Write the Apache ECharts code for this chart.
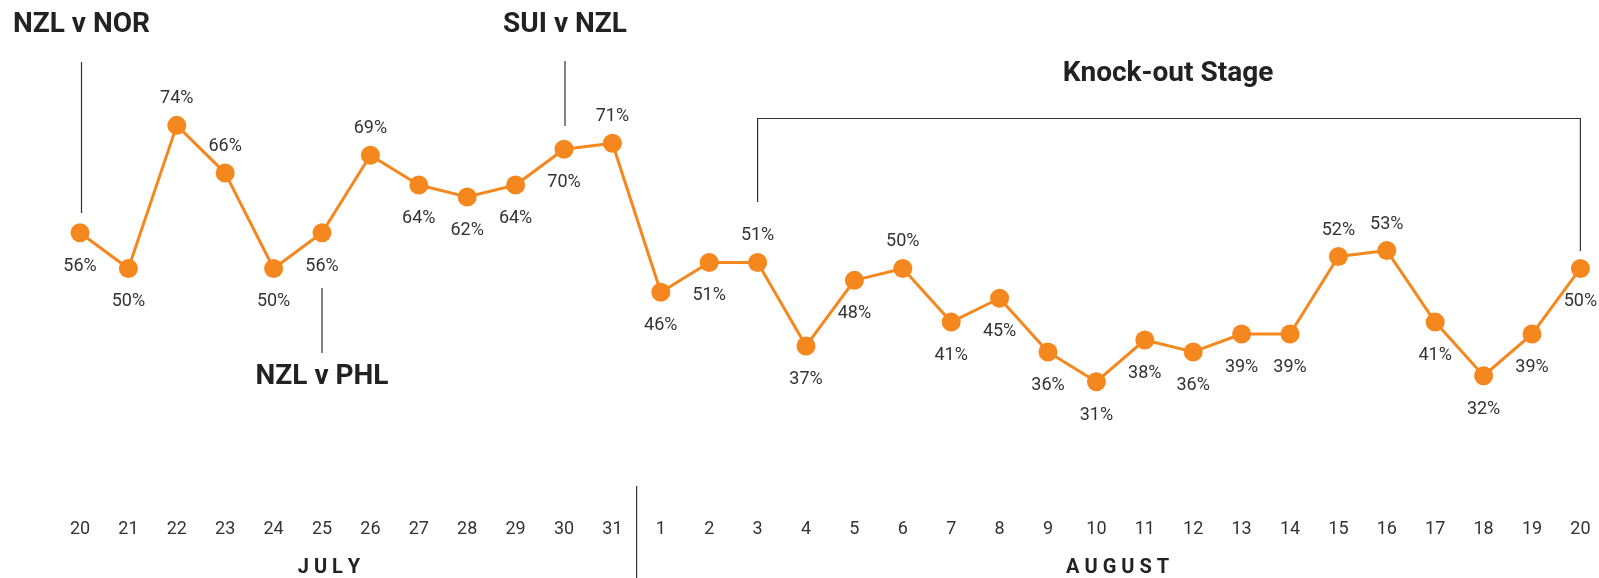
<!DOCTYPE html>
<html>
<head>
    <meta charset="utf-8"/>
    <title>Daily share</title>
    <style>
        html, body {
            margin: 0;
            padding: 0;
            background: #fff;
        }
        #main {
            width: 1599px;
            height: 578px;
        }
    </style>
</head>
<body>
<div id="main"></div>

<script src="https://cdn.jsdelivr.net/npm/echarts@6/dist/echarts.min.js"></script>
<script>
    // days: 20-31 July, then 1-20 August
    var julyDays = ['20', '21', '22', '23', '24', '25', '26', '27', '28', '29', '30', '31'];
    var augustDays = ['1', '2', '3', '4', '5', '6', '7', '8', '9', '10', '11', '12', '13', '14', '15', '16', '17', '18', '19', '20'];
    var julyValues = [56, 50, 74, 66, 50, 56, 69, 64, 62, 64, 70, 71];
    var augustValues = [46, 51, 51, 37, 48, 50, 41, 45, 36, 31, 38, 36, 39, 39, 52, 53, 41, 32, 39, 50];

    // category keys are "month-day" so the two "20"s stay apart
    var categories = julyDays.map(function (d) { return 'J' + d; })
        .concat(augustDays.map(function (d) { return 'A' + d; }));
    var values = julyValues.concat(augustValues);

    // points whose label sits above the dot (all others go below)
    var labelAbove = ['J22', 'J23', 'J26', 'J31', 'A3', 'A6', 'A15', 'A16'];

    var orange = '#f5871f';
    var textColor = '#333333';
    var titleColor = '#222222';

    var chart = echarts.init(document.getElementById('main'));

    var seriesData = values.map(function (v, i) {
        var up = labelAbove.indexOf(categories[i]) >= 0;
        return {
            value: v,
            label: {
                position: up ? 'top' : 'bottom',
                distance: up ? 8 : 15
            }
        };
    });

    chart.setOption({
        animation: false,
        grid: {
            left: 80,
            right: 18.6,
            top: 89.6,
            bottom: 130.7
        },
        xAxis: {
            type: 'category',
            data: categories,
            boundaryGap: false,
            axisLine: {show: false},
            axisTick: {show: false},
            splitLine: {show: false},
            axisLabel: {
                margin: 73,
                color: textColor,
                fontFamily: 'Roboto',
                fontSize: 18,
                formatter: function (v) { return v.slice(1); }
            }
        },
        yAxis: {
            type: 'value',
            min: 20,
            max: 80,
            show: false
        },
        series: [{
            type: 'line',
            data: seriesData,
            symbol: 'circle',
            symbolSize: 19,
            lineStyle: {color: orange, width: 3},
            itemStyle: {color: orange},
            label: {
                show: true,
                color: textColor,
                fontFamily: 'Roboto',
                fontSize: 18,
                formatter: '{c}%'
            }
        }]
    });

    // annotations, anchored on the category positions
    function px(cat) {
        return chart.convertToPixel({xAxisIndex: 0}, cat);
    }

    function vline(x, y1, y2) {
        return {
            type: 'line',
            shape: {x1: x, y1: y1, x2: x, y2: y2},
            style: {stroke: '#333', lineWidth: 1.2}
        };
    }

    function title(text, x, y, align, size) {
        return {
            type: 'text',
            x: x,
            y: y,
            style: {
                text: text,
                fill: titleColor,
                font: 'bold ' + (size || 28) + 'px Roboto',
                align: align || 'center',
                verticalAlign: 'middle'
            }
        };
    }

    var xNor = px('J20') + 1.5;
    var xPhl = px('J25');
    var xSui = px('J30') + 1;
    var xKoStart = px('A3');
    var xKoEnd = px('A20');
    var xSplit = (px('J31') + px('A1')) / 2;

    chart.setOption({
        graphic: [
            vline(xNor, 62, 213),
            title('NZL v NOR', 13, 25, 'left'),
            vline(xPhl, 288, 353),
            title('NZL v PHL', xPhl, 377),
            vline(xSui, 61, 126),
            title('SUI v NZL', xSui, 25),
            {
                type: 'polyline',
                shape: {points: [[xKoStart, 202], [xKoStart, 118.5], [xKoEnd, 118.5], [xKoEnd, 251]]},
                style: {stroke: '#333', lineWidth: 1.2, fill: null}
            },
            title('Knock-out Stage', 1168, 74),
            vline(xSplit, 486, 578),
            title('J U L Y', 329, 567.5, 'center', 20),
            title('A U G U S T', (px('A1') + xKoEnd) / 2 - 3, 567.5, 'center', 20)
        ]
    });

    window.onresize = function () {
        chart.resize();
    };
</script>
</body>
</html>
